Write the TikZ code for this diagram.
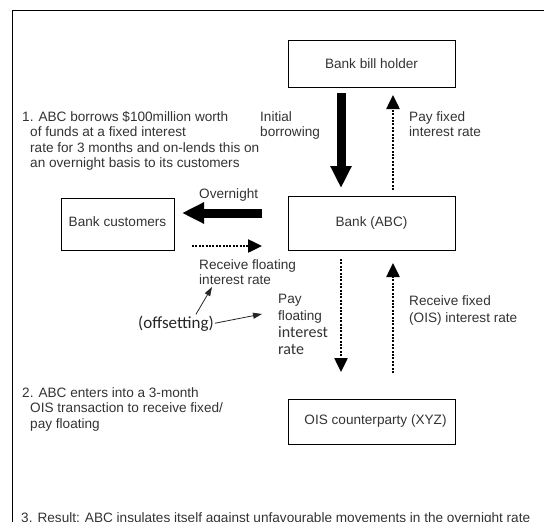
\documentclass[tikz,border=0pt]{standalone}
\usepackage{fontspec}
\setmainfont{Liberation Sans}
\newfontfamily\carlfont{Carlito}
\usepackage{tikz}
\usetikzlibrary{arrows.meta,calc}

\tikzset{
  box/.style={draw=black, line width=1pt, minimum width=167pt, inner sep=0pt, text=black!80, font=\fontsize{13.6}{15.5}\selectfont},
  lbl/.style={anchor=base west, align=left, inner sep=0pt, text=black!80, font=\fontsize{13.6}{15.5}\selectfont},
  bigarrow/.style={line width=9pt, -{Triangle[width=20pt,length=22pt]}},
  dotarrow/.style={line width=2.5pt, dash pattern=on 2pt off 1.4pt, -{Triangle[width=13pt,length=14pt]}},
  thinarrow/.style={line width=0.8pt, black!85, -{Triangle[width=6pt,length=9pt]}}
}

\begin{document}
\begin{tikzpicture}[x=1pt,y=-1pt]
    \useasboundingbox (0,0) rectangle (544,522);
    \draw[line width=1pt] (12,560) |- (580,10);

    % the four parties
    \node[box, minimum height=47pt] (holder) at (371.5,63.5) {Bank bill holder};
    \node[box, minimum height=54pt] (abc) at (371.5,223) {Bank (ABC)};
    \node[box, minimum height=45pt] (xyz) at (371.5,421.5) {\raisebox{3pt}{\hspace*{8pt}OIS counterparty (XYZ)}};
    \node[box, minimum width=113pt, minimum height=52pt] (cust) at (117.5,224) {\raisebox{4pt}{Bank customers}};

    % ends of the flows
    \coordinate (borrowA) at (341,93);   \coordinate (borrowB) at (341,188);
    \coordinate (fixA) at (393,190);     \coordinate (fixB) at (393,95);
    \coordinate (nightA) at (262,213);   \coordinate (nightB) at (182,213);
    \coordinate (floatA) at (192,246);   \coordinate (floatB) at (262,246);
    \coordinate (payflA) at (341,259);   \coordinate (payflB) at (341,372);
    \coordinate (oisA) at (393,373);     \coordinate (oisB) at (393,263);

    \draw[bigarrow] (borrowA) -- (borrowB);
    \draw[dotarrow] (fixA) -- (fixB);
    \draw[bigarrow] (nightA) -- (nightB);
    \draw[dotarrow] (floatA) -- (floatB);
    \draw[dotarrow] (payflA) -- (payflB);
    \draw[dotarrow] (oisA) -- (oisB);

    % flow labels (placed at the baseline of their last line)
    \node[lbl] (initlbl) at (260,136.5) {Initial\\borrowing};
    \node[lbl] (fixlbl) at (409,136.5) {Pay fixed\\interest rate};
    \node[lbl] (nightlbl) at (199,198) {Overnight};
    \node[lbl, font=\fontsize{13.6}{15}\selectfont] (floatlbl) at (199,284) {Receive floating\\interest rate};
    \node[lbl, font=\fontsize{13.6}{17}\selectfont] (payfllbl) at (278,354) {Pay\\floating\\{\carlfont\fontsize{16}{17}\selectfont interest}\\{\carlfont\fontsize{16}{17}\selectfont rate}};
    \node[lbl, font=\fontsize{13.6}{17.5}\selectfont] (oislbl) at (409,322.5) {Receive fixed\\(OIS) interest rate};

    \node[anchor=base west, inner sep=1pt, text=black!85, font=\carlfont\fontsize{17}{18}\selectfont] (offset) at (137,328) {(offsetting)};
    \coordinate (offTipA) at (212,287);
    \coordinate (offTipB) at (262,314);
    \draw[thinarrow] ([xshift=20pt]offset.north) -- (offTipA);
    \draw[thinarrow] (offset.east) -- (offTipB);

    % the three steps
    \node[lbl] (step1) at (22,167.5) {1. ABC borrows \$100million worth\\\hspace*{8pt}of funds at a fixed interest\\\hspace*{8pt}rate for 3 months and on-lends this on\\\hspace*{8pt}an overnight basis to its customers};
    \node[lbl] (step2) at (22,428) {2. ABC enters into a 3-month\\\hspace*{8pt}OIS transaction to receive fixed/\\\hspace*{8pt}pay floating};
    \node[lbl] (step3) at (21,522.5) {3. Result: ABC insulates itself against unfavourable movements in the overnight rate};

\end{tikzpicture}
\end{document}
